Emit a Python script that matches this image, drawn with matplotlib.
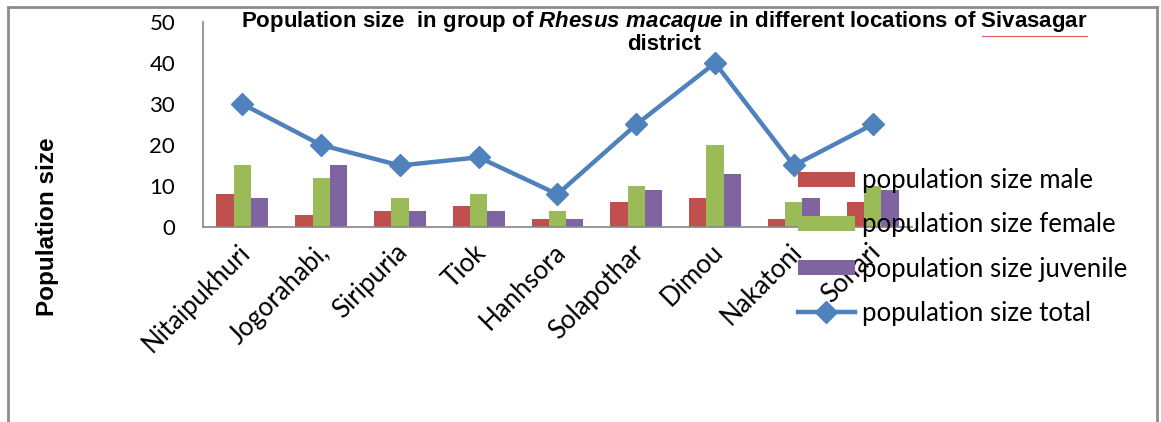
import matplotlib
matplotlib.use("Agg")
import matplotlib.pyplot as plt
import matplotlib.transforms as mtransforms
import numpy as np
from matplotlib.lines import Line2D

locations = ["Nitaipukhuri", "Jogorahabi,", "Siripuria", "Tiok", "Hanhsora",
             "Solapothar", "Dimou", "Nakatoni", "Sonari"]
male = [8, 3, 4, 5, 2, 6, 7, 2, 6]
female = [15, 12, 7, 8, 4, 10, 20, 6, 10]
juvenile = [7, 15, 4, 4, 2, 9, 13, 7, 9]
total = [30, 20, 15, 17, 8, 25, 40, 15, 25]
yticks = [0, 10, 20, 30, 40, 50]

c_male = "#C0504D"
c_female = "#9BBB59"
c_juv = "#8064A2"
c_tot = "#4F81BD"

plt.rcParams["mathtext.fontset"] = "custom"
plt.rcParams["mathtext.it"] = "Liberation Sans:italic:bold"
plt.rcParams["mathtext.rm"] = "Liberation Sans:bold"

W, H = 1161, 422
fig = plt.figure(figsize=(W / 100, H / 100), dpi=100)
ax = fig.add_axes([203 / W, 1 - 227 / H, (912 - 203) / W, (227 - 22) / H])

x = np.arange(len(locations))
bw = 0.22
h_m = ax.bar(x - bw, male, bw, color=c_male, label="population size male", zorder=2)
h_f = ax.bar(x, female, bw, color=c_female, label="population size female", zorder=2)
h_j = ax.bar(x + bw, juvenile, bw, color=c_juv, label="population size juvenile", zorder=2)
h_t, = ax.plot(x, total, color=c_tot, lw=3.2, marker="D", markersize=11,
               label="population size total", zorder=3)

ax.set_xlim(-0.5, len(locations) - 0.5)
ax.set_ylim(0, 50)
ax.set_yticks(yticks)
ax.set_yticklabels([str(v) for v in yticks], fontsize=16, family="Lato")
ax.tick_params(axis="y", length=0, pad=20)
ax.set_xticks(x)
ax.set_xticklabels(locations, rotation=45, ha="right", rotation_mode="anchor",
                   fontsize=18.5, family="Lato")
ax.tick_params(axis="x", length=0, pad=9)
off = mtransforms.ScaledTranslation(-5 / 100, 0, fig.dpi_scale_trans)
for lab in ax.get_xticklabels():
    lab.set_transform(lab.get_transform() + off)
for s in ["top", "right"]:
    ax.spines[s].set_visible(False)
for s in ["left", "bottom"]:
    ax.spines[s].set_color("#868686")
    ax.spines[s].set_linewidth(1.2)

leg = ax.legend([h_m, h_f, h_j, h_t],
                ["population size male", "population size female",
                 "population size juvenile", "population size total"],
                loc="center left", bbox_to_anchor=(798 / W, 1 - 247 / H),
                bbox_transform=fig.transFigure, frameon=False,
                prop={"family": "Lato", "size": 18.5},
                handlelength=2.2, handleheight=0.5, handletextpad=0.3,
                labelspacing=0.74, borderpad=0, borderaxespad=0)
leg.set_zorder(5)

title_kw = dict(ha="center", va="center", fontsize=16, fontweight="bold",
                family="Liberation Sans")
t1 = fig.text(664 / W, 1 - 22 / H,
              r"Population size  in group of $\mathit{Rhesus\ macaque}$ in different locations of Sivasagar",
              **title_kw)
fig.text(664 / W, 1 - 44 / H, "district", **title_kw)

# spell-check style underline beneath "Sivasagar"
fig.canvas.draw()
r = fig.canvas.get_renderer()
bb = t1.get_window_extent(r)
tmp = fig.text(0, 0, "Sivasagar", fontsize=16, fontweight="bold",
               family="Liberation Sans")
wbb = tmp.get_window_extent(r)
tmp.remove()
fig.add_artist(Line2D([(bb.x1 - wbb.width) / W, bb.x1 / W],
                      [(bb.y0 - 1) / H, (bb.y0 - 1) / H],
                      color="#E06060", lw=0.8))

fig.text(48 / W, 1 - 227 / H, "Population size", rotation=90, ha="center",
         va="center", fontsize=17.5, fontweight="bold", family="Liberation Sans")

# outer border
bc = "#8C8C8C"
fig.add_artist(Line2D([8 / W, 8 / W], [0, 1 - 7 / H], color=bc, lw=2))
fig.add_artist(Line2D([8 / W, 1157 / W], [1 - 7 / H, 1 - 7 / H], color=bc, lw=2))
fig.add_artist(Line2D([1157 / W, 1157 / W], [0, 1 - 7 / H], color=bc, lw=2))

fig.savefig("out.png", dpi=100, facecolor="white")
